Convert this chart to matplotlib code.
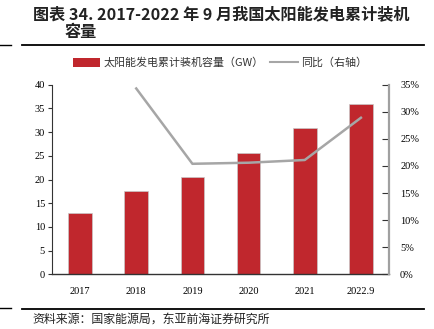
import numpy as np
import matplotlib
matplotlib.use('Agg')
import matplotlib.pyplot as plt
from matplotlib.lines import Line2D
from matplotlib.patches import Patch

plt.rcParams['font.family'] = ['Noto Sans CJK SC', 'DejaVu Sans']

# data
years = ['2017', '2018', '2019', '2020', '2021', '2022.9']
capacity = [13.0, 17.5, 20.6, 25.5, 30.8, 36.0]          # GW, left axis
yoy_years = ['2018', '2019', '2020', '2021', '2022.9']
yoy = [34.3, 20.4, 20.6, 21.1, 28.9]                      # %, right axis

bar_color = '#C0272D'
line_color = '#A6A6A6'
num_font = 'Liberation Serif'

fig = plt.figure(figsize=(4.34, 3.29), dpi=100)
ax = fig.add_axes([52 / 434, 1 - 274.3 / 329, 337 / 434, 189.6 / 329])

x = np.arange(len(years))
ax.bar(x, capacity, width=0.42, color=bar_color, edgecolor='#C8C8C8', linewidth=0.5)
ax.set_xlim(-0.5, len(years) - 0.5)
ax.set_ylim(0, 40)
ax.set_yticks(np.arange(0, 41, 5))
ax.set_xticks(x)
ax.set_xticklabels(years, fontfamily=num_font, fontsize=7.5)
ax.tick_params(axis='x', length=0, pad=9)
ax.tick_params(axis='y', direction='out', length=3, width=0.8, pad=2, color='#333333')
for lab in ax.get_yticklabels():
    lab.set_fontfamily(num_font)
    lab.set_fontsize(7.5)
ax.spines['top'].set_visible(False)
ax.spines['right'].set_visible(False)
ax.spines['left'].set_color('#333333')
ax.spines['bottom'].set_color('#333333')
ax.spines['left'].set_linewidth(0.8)
ax.spines['bottom'].set_linewidth(1.0)

ax2 = ax.twinx()
xi = [years.index(y) for y in yoy_years]
ax2.plot(xi, yoy, color=line_color, linewidth=1.8)
ax2.set_ylim(0, 35)
ax2.set_yticks(np.arange(0, 36, 5))
ax2.set_yticklabels([f'{v}%' for v in range(0, 36, 5)], fontfamily=num_font, fontsize=7.5)
ax2.tick_params(axis='y', direction='in', length=5, width=0.8, pad=8, color='#333333')
ax2.spines['top'].set_visible(False)
ax2.spines['left'].set_visible(False)
ax2.spines['bottom'].set_visible(False)
ax2.spines['right'].set_color('#A0A0A0')
ax2.spines['right'].set_linewidth(1.6)

# legend
handles = [Patch(facecolor=bar_color, edgecolor='none'),
           Line2D([0], [0], color=line_color, linewidth=1.5)]
labels = ['太阳能发电累计装机容量（GW）', '同比（右轴）']
fig.legend(handles, labels, loc='center', bbox_to_anchor=(220 / 434, 1 - 63 / 329),
           ncol=2, frameon=False, fontsize=7.9, handlelength=2.5, handleheight=0.9,
           columnspacing=0.6, handletextpad=0.3, labelcolor='#333333')

# title
fig.text(33 / 434, 1 - 14 / 329, '图表 34. 2017-2022 年 9 月我国太阳能发电累计装机',
         fontsize=11.6, fontweight='bold', va='center', ha='left', color='#222222')
fig.text(65 / 434, 1 - 32 / 329, '容量', fontsize=11.6, fontweight='bold',
         va='center', ha='left', color='#222222')

# rules
fig.add_artist(Line2D([22 / 434, 424 / 434], [1 - 45 / 329] * 2, color='black', linewidth=1.3))
fig.add_artist(Line2D([0, 11 / 434], [1 - 45 / 329] * 2, color='black', linewidth=1.0))
fig.add_artist(Line2D([22 / 434, 424 / 434], [1 - 309 / 329] * 2, color='black', linewidth=1.3))
fig.add_artist(Line2D([0, 11 / 434], [1 - 308 / 329] * 2, color='black', linewidth=1.0))

# source
fig.text(32 / 434, 1 - 319 / 329, '资料来源：国家能源局，东亚前海证券研究所',
         fontsize=8.6, va='center', ha='left', color='#222222')

fig.savefig('out.png', dpi=100)
